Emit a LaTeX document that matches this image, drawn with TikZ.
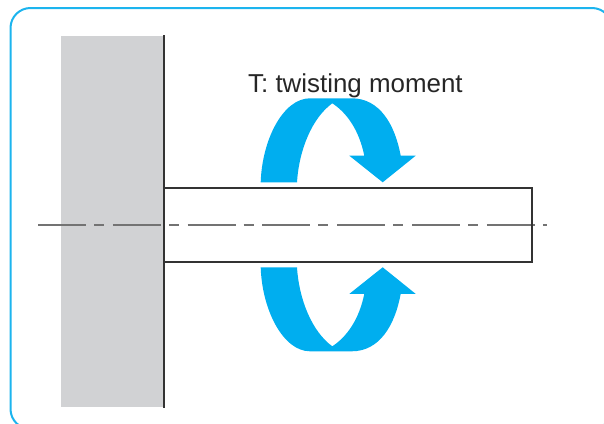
\documentclass[tikz,border=0pt]{standalone}
\usepackage{fontspec}
\setmainfont{Liberation Sans}
\definecolor{framecyan}{HTML}{1CB4EE}
\definecolor{arrowcyan}{HTML}{00AEEF}
\definecolor{wallgray}{HTML}{D1D2D4}
\definecolor{linedark}{HTML}{333333}
\tikzset{
  outline/.style={line width=1.5pt, linedark},
  centerline/.style={line width=1.2pt, black!55, dash pattern=on 48pt off 8pt on 10pt off 8.8pt},
}
\newcommand{\twistarrow}{
  (260.7,182.3) .. controls (262,140) and (283,98.3) .. (310,98.3) -- (351.7,98.3)
  .. controls (380,98.3) and (395,125) .. (400.7,155.7) -- (415.7,155.7) -- (382.7,182.3)
  -- (349.3,155.7) -- (364.3,155.7) .. controls (359,130) and (347,113) .. (332.3,103.3)
  .. controls (312,118) and (299,150) .. (297,182.3) -- cycle
}
\begin{document}
\begin{tikzpicture}[x=1pt, y=-1pt]
\useasboundingbox (0,0) rectangle (604,423);

\begin{scope}
\clip (0,0) rectangle (604,423);
\draw [line width=2pt, framecyan, rounded corners=20pt] (10.5,8) rectangle (612,429);
\end{scope}

\fill [wallgray] (61,36) rectangle (164,407);

\draw [centerline] (38,225) -- (547,225);

\draw [outline] (164,35) -- (164,408);
\draw [outline] (164,188) -- (532,188) -- (532,262) -- (164,262);

\fill [arrowcyan] \twistarrow;
\begin{scope}[yshift=-449.6pt, yscale=-1]
\fill [arrowcyan] \twistarrow;
\end{scope}

\node (moment) [anchor=base west, inner sep=0pt, font=\fontsize{25.9pt}{30pt}\selectfont, text=black!85] at (248,92) {T: twisting moment};

\end{tikzpicture}
\end{document}
